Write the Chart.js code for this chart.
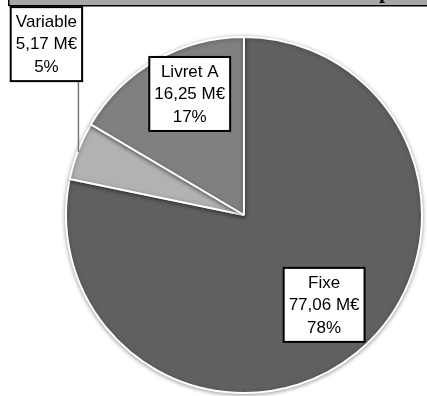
<!DOCTYPE html>
<html>
<head>
<meta charset="utf-8">
<script src="https://cdn.jsdelivr.net/npm/chart.js@4.4.0/dist/chart.umd.min.js"></script>
<style>
html,body{margin:0;padding:0;background:#fff;}
#wrap{width:427px;height:396px;position:relative;}
</style>
</head>
<body>
<div id="wrap"><canvas id="c" width="427" height="396"></canvas></div>
<script>
const categories = ["Fixe", "Variable", "Livret A"];
const amounts = [77.06, 5.17, 16.25];
const amountLabels = ["77,06 M€", "5,17 M€", "16,25 M€"];
const percentLabels = ["78%", "5%", "17%"];
const colors = ["#606060", "#b2b2b2", "#808080"];

// label box centres, relative to pie centre in units of radius
const labelPos = [[0.45, 0.505], [-1.11, -0.96], [-0.305, -0.68]];

const labelPlugin = {
  id: 'boxLabels',
  afterDatasetsDraw(chart) {
    const ctx = chart.ctx;
    const meta = chart.getDatasetMeta(0);
    const a0 = meta.data[0];
    const cx = a0.x, cy = a0.y, r = a0.outerRadius;
    ctx.save();
    // leader line for Variable
    const vb = labelPos[1];
    const bx = cx + vb[0] * r, by = cy + vb[1] * r;
    ctx.strokeStyle = '#777';
    ctx.lineWidth = 1.5;
    ctx.beginPath();
    ctx.moveTo(bx + 32, by + 36);
    ctx.lineTo(bx + 32, cy - 0.355 * r);
    ctx.stroke();
    ctx.font = '17px "Liberation Sans", Arial, sans-serif';
    ctx.textAlign = 'center';
    ctx.textBaseline = 'middle';
    categories.forEach((cat, i) => {
      const x = cx + labelPos[i][0] * r, y = cy + labelPos[i][1] * r;
      const lines = [cat, amountLabels[i], percentLabels[i]];
      const w = Math.max(...lines.map(l => ctx.measureText(l).width)) + 10;
      const h = 74;
      ctx.fillStyle = '#fff';
      ctx.fillRect(x - w / 2, y - h / 2, w, h);
      ctx.strokeStyle = '#000';
      ctx.lineWidth = 2;
      ctx.strokeRect(x - w / 2, y - h / 2, w, h);
      ctx.fillStyle = '#000';
      lines.forEach((l, k) => ctx.fillText(l, x, y - 22 + k * 22.5));
    });
    ctx.restore();
  },
  beforeDatasetsDraw(chart) {
    const ctx = chart.ctx;
    ctx.save();
    ctx.shadowColor = 'rgba(0,0,0,0.35)';
    ctx.shadowBlur = 4;
    ctx.shadowOffsetY = 1;
  },
  afterDatasetDraw(chart) {
    chart.ctx.restore();
  },
  beforeDraw(chart) {
    const ctx = chart.ctx;
    ctx.save();
    ctx.fillStyle = '#a6a6a6';
    ctx.fillRect(9, 0, 418, 5);
    ctx.fillStyle = '#000';
    ctx.fillRect(9, 5, 418, 1.5);
    ctx.fillRect(8, 0, 1.5, 6);
    ctx.beginPath();
    ctx.rect(9, 0, 418, 5);
    ctx.clip();
    ctx.fillStyle = '#000';
    ctx.font = 'bold 22px "Liberation Serif", "Times New Roman", serif';
    ctx.textAlign = 'left';
    ctx.textBaseline = 'alphabetic';
    ctx.fillText('p', 379, -2);
    ctx.restore();
  }
};

new Chart(document.getElementById('c'), {
  type: 'pie',
  data: {
    labels: categories,
    datasets: [{
      data: amounts,
      backgroundColor: colors,
      borderColor: '#ffffff',
      borderWidth: 2
    }]
  },
  options: {
    responsive: false,
    animation: false,
    layout: { padding: { left: 63, right: 2, top: 36, bottom: 2 } },
    plugins: { legend: { display: false }, tooltip: { enabled: false }, title: { display: false } }
  },
  plugins: [labelPlugin]
});
</script>
</body>
</html>
